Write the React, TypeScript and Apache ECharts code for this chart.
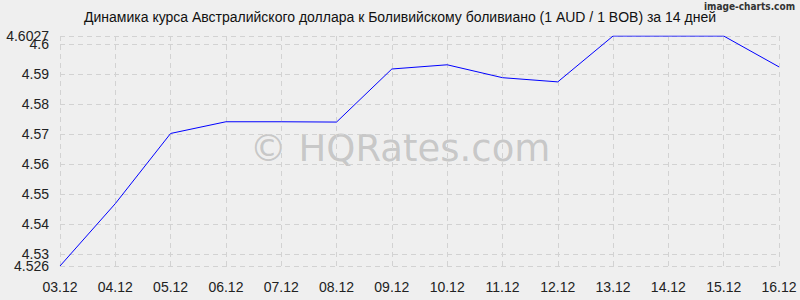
import React, { useEffect, useRef } from "react";
import * as echarts from "echarts";

const categories = ["03.12", "04.12", "05.12", "06.12", "07.12", "08.12", "09.12", "10.12", "11.12", "12.12", "13.12", "14.12", "15.12", "16.12"];
const values = [4.526, 4.5468, 4.5702, 4.5741, 4.5741, 4.574, 4.5917, 4.5931, 4.5888, 4.5874, 4.6027, 4.6027, 4.6027, 4.5924];
const yGridTicks = [4.526, 4.53, 4.54, 4.55, 4.56, 4.57, 4.58, 4.59, 4.6, 4.6027];
const yRoundLabels = [4.53, 4.54, 4.55, 4.56, 4.57, 4.58, 4.59, 4.6];
const yEdgeLabels = [4.526, 4.6027];
const yMin = 4.526;
const yMax = 4.6027;
const titleText = "Динамика курса Австралийского доллара к Боливийскому боливиано (1 AUD / 1 BOB) за 14 дней";

export default function App() {
  const ref = useRef<HTMLDivElement>(null);
  useEffect(() => {
    if (!ref.current) return;
    const chart = echarts.init(ref.current, null, { renderer: "svg" });
    const font = "'Liberation Sans', Arial, sans-serif";
    const fmt = (v: number) => String(Number(v.toFixed(4)));
    const labelBase = {
      color: "#222",
      fontSize: 14,
      margin: 11,
      fontFamily: font,
      hideOverlap: false,
      showMinLabel: true,
      showMaxLabel: true,
      formatter: fmt,
    };
    chart.setOption({
      animation: false,
      backgroundColor: "#efefef",
      textStyle: { fontFamily: font },
      grid: { left: 60, right: 21, top: 36, bottom: 34 },
      graphic: [
        {
          type: "text",
          left: "center",
          top: 10,
          style: { text: titleText, fontSize: 14, fill: "#111", fontFamily: font },
        },
        {
          type: "text",
          right: 5,
          top: 1,
          style: { text: "image-charts.com", fontSize: 10, fontWeight: "bold", fill: "#333", fontFamily: "'DejaVu Sans Condensed', 'DejaVu Sans', sans-serif" },
        },
        {
          type: "text",
          x: 400,
          y: 148,
          style: {
            text: "© HQRates.com",
            fontSize: 37,
            fill: "rgba(150,150,150,0.45)",
            fontFamily: "'DejaVu Sans', sans-serif",
            align: "center",
            verticalAlign: "middle",
          },
          z: 0,
        },
      ],
      xAxis: {
        type: "category",
        data: categories,
        boundaryGap: false,
        axisLine: { show: false },
        axisTick: { show: false },
        axisLabel: { color: "#222", fontSize: 14, margin: 14, fontFamily: font, interval: 0 },
        splitLine: { show: true, lineStyle: { color: "#d2d2d2", type: [5, 4], width: 1 } },
      },
      yAxis: [
        {
          type: "value",
          min: yMin,
          max: yMax,
          position: "left",
          axisLine: { show: false },
          axisTick: { show: false, customValues: yGridTicks },
          axisLabel: { ...labelBase, customValues: yRoundLabels },
          splitLine: { show: true, lineStyle: { color: "#d2d2d2", type: [5, 4], width: 1 } },
        },
        {
          type: "value",
          min: yMin,
          max: yMax,
          position: "left",
          offset: 0,
          axisLine: { show: false },
          axisTick: { show: false, customValues: yEdgeLabels },
          axisLabel: { ...labelBase, customValues: yEdgeLabels },
          splitLine: { show: false },
        },
      ],
      series: [
        {
          type: "line",
          data: values,
          yAxisIndex: 0,
          symbol: "none",
          lineStyle: { color: "#0000ff", width: 1 },
          z: 3,
        },
      ],
    });
    return () => chart.dispose();
  }, []);
  return <div ref={ref} style={{ width: 800, height: 300, position: "absolute", left: 0, top: 0 }} />;
}
